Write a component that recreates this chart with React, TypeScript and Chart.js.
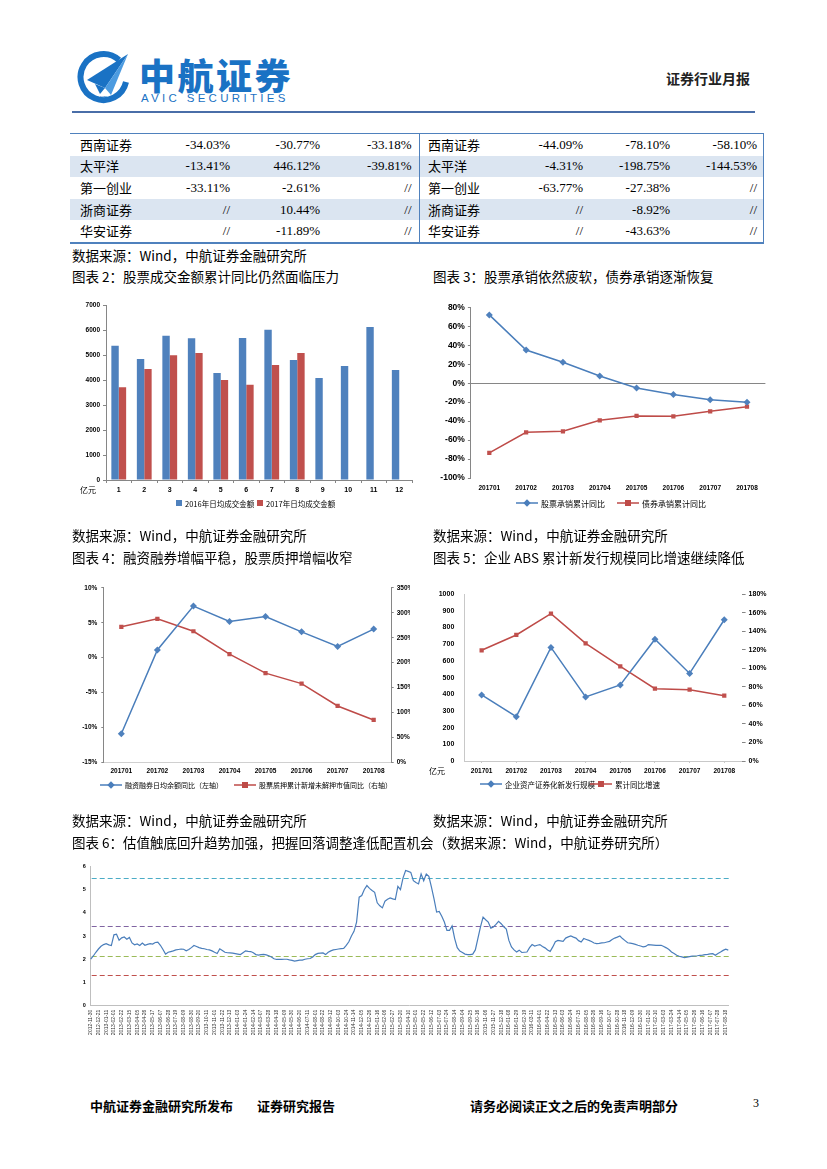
import React, { useEffect, useRef } from "react";
import { Chart, registerables } from "chart.js";
Chart.register(...registerables);

const FONT_CN = "'Noto Sans CJK SC', 'Noto Sans', sans-serif";
const FONT_NUM = "'Liberation Serif', 'Times New Roman', serif";
const FONT_AXIS = "'Liberation Sans', Arial, sans-serif";
Chart.defaults.font.family = FONT_AXIS;

// ---------------- Table data ----------------
const brokerNames = ["西南证券", "太平洋", "第一创业", "浙商证券", "华安证券"];
const leftTableValues = [
  ["-34.03%", "-30.77%", "-33.18%"],
  ["-13.41%", "446.12%", "-39.81%"],
  ["-33.11%", "-2.61%", "//"],
  ["//", "10.44%", "//"],
  ["//", "-11.89%", "//"],
];
const rightTableValues = [
  ["-44.09%", "-78.10%", "-58.10%"],
  ["-4.31%", "-198.75%", "-144.53%"],
  ["-63.77%", "-27.38%", "//"],
  ["//", "-8.92%", "//"],
  ["//", "-43.63%", "//"],
];

// ---------------- Chart 2 ----------------
const months = ["1", "2", "3", "4", "5", "6", "7", "8", "9", "10", "11", "12"];
const turnover2016 = [5370, 4840, 5770, 5670, 4280, 5680, 6010, 4800, 4080, 4560, 6120, 4400];
const turnover2017 = [3710, 4440, 4990, 5080, 4000, 3810, 4600, 5080];
const turnoverTicks = { min: 0, max: 7000, step: 1000 };

// ---------------- Chart 3 ----------------
const periods = ["201701", "201702", "201703", "201704", "201705", "201706", "201707", "201708"];
const equityUnderwriting = [72, 35, 22, 7.5, -5, -12, -17.4, -20.2];
const bondUnderwriting = [-73.6, -51.8, -50.8, -39.2, -34.6, -35, -29.7, -24.8];

// ---------------- Chart 4 ----------------
const marginBalanceYoY = [-10.9, 1.1, 7.4, 5.2, 5.9, 3.7, 1.6, 4.1];
const pledgeYoY = [272, 288, 263, 217, 179, 158, 113, 85];

// ---------------- Chart 5 ----------------
const absIssuance = [396, 266, 681, 384, 456, 730, 525, 847];
const absGrowth = [119.5, 136, 159, 127, 102, 78, 77, 70.5];

// ---------------- Chart 6 ----------------
const pbStartDate = "2012-11-30";
const pbValues = [
  2.0, 2.14, 2.3, 2.44, 2.56, 2.63, 2.67, 2.62, 2.59, 3.05,
  3.08, 2.82, 2.92, 2.96, 2.86, 2.94, 2.7, 2.62, 2.66, 2.59,
  2.7, 2.6, 2.64, 2.67, 2.65, 2.72, 2.74, 2.6, 2.42, 2.22,
  2.3, 2.33, 2.36, 2.4, 2.42, 2.44, 2.43, 2.36, 2.42, 2.5,
  2.59, 2.55, 2.5, 2.47, 2.45, 2.42, 2.4, 2.36, 2.3, 2.25,
  2.45, 2.38, 2.3, 2.28, 2.27, 2.26, 2.24, 2.22, 2.2, 2.28,
  2.36, 2.34, 2.33, 2.28, 2.2, 2.18, 2.2, 2.21, 2.19, 2.15,
  2.1, 2.02, 1.99, 2.0, 1.99, 2.0, 2.0, 1.97, 1.95, 1.92,
  1.94, 1.96, 1.96, 2.0, 2.02, 2.03, 2.1, 2.2, 2.25, 2.26,
  2.27, 2.2, 2.3, 2.36, 2.4, 2.42, 2.44, 2.46, 2.47, 2.6,
  2.75, 3.0, 3.2, 3.6, 4.67, 4.74, 5.0, 5.17, 5.05, 4.96,
  4.88, 4.43, 4.3, 4.21, 4.5, 4.58, 4.64, 4.6, 4.57, 5.14,
  5.0, 5.5, 5.82, 5.78, 5.74, 5.38, 5.3, 5.24, 5.67, 5.38,
  5.67, 5.57, 5.1, 4.6, 4.03, 4.06, 3.85, 3.6, 3.24, 3.24,
  3.43, 2.89, 2.5, 2.35, 2.29, 2.22, 2.2, 2.2, 2.22, 2.4,
  2.9, 3.39, 3.81, 3.7, 3.6, 3.34, 3.39, 3.5, 3.63, 3.53,
  3.4, 3.3, 2.81, 2.53, 2.4, 2.31, 2.39, 2.29, 2.3, 2.31,
  2.5, 2.63, 2.57, 2.6, 2.63, 2.55, 2.49, 2.4, 2.34, 2.53,
  2.75, 2.81, 2.79, 2.77, 2.91, 2.96, 3.0, 2.95, 2.91, 2.8,
  2.74, 2.89, 2.85, 2.81, 2.76, 2.7, 2.67, 2.68, 2.7, 2.71,
  2.74, 2.77, 2.85, 2.91, 2.95, 3.0, 2.89, 2.8, 2.71, 2.69,
  2.67, 2.64, 2.6, 2.57, 2.53, 2.55, 2.63, 2.62, 2.61, 2.6,
  2.6, 2.6, 2.55, 2.49, 2.42, 2.31, 2.25, 2.17, 2.13, 2.1,
  2.07, 2.09, 2.11, 2.13, 2.14, 2.15, 2.17, 2.18, 2.2, 2.21,
  2.23, 2.24, 2.17, 2.25, 2.31, 2.38, 2.43, 2.39,
];
const pbReferenceLevels = [5.5, 3.42, 2.12, 1.32];
const pbReferenceColors = ["#4BACC6", "#8064A2", "#9BBB59", "#C0504D"];

function weeklyDates(start: string, count: number): string[] {
  const out: string[] = [];
  const base = new Date(start + "T00:00:00Z").getTime();
  for (let i = 0; i < count; i++) {
    const d = new Date(base + i * 7 * 86400000);
    const mm = String(d.getUTCMonth() + 1).padStart(2, "0");
    const dd = String(d.getUTCDate()).padStart(2, "0");
    out.push(`${d.getUTCFullYear()}-${mm}-${dd}`);
  }
  return out;
}
const pbDates = weeklyDates(pbStartDate, pbValues.length);

// ---------------- helpers ----------------
const BLUE = "#4F81BD";
const BLUE_LINE = "#4A7EBB";
const RED = "#C0504D";
const RED_LINE = "#BE4B48";
const AXIS = "#868686";

const fixW = (w: number) => (scale: any) => {
  scale.width = w;
};
const fixH = (h: number) => (scale: any) => {
  scale.height = h;
};
const plain = (v: number) => String(v);
const pct = (v: number) => v + "%";

function ChartCanvas({ x, y, w, h, make }: { x: number; y: number; w: number; h: number; make: () => any }) {
  const ref = useRef<HTMLCanvasElement | null>(null);
  useEffect(() => {
    if (!ref.current) return;
    const chart = new Chart(ref.current, make());
    return () => chart.destroy();
  }, []);
  return (
    <canvas
      ref={ref}
      width={w}
      height={h}
      style={{ position: "absolute", left: x, top: y, width: w, height: h }}
    />
  );
}

const basePlugins = { legend: { display: false }, tooltip: { enabled: false } };

function chart2Config() {
  return {
    type: "bar",
    data: {
      labels: months,
      datasets: [
        { label: "2016年日均成交金额", data: turnover2016, backgroundColor: BLUE, barPercentage: 1, categoryPercentage: 0.58 },
        { label: "2017年日均成交金额", data: turnover2017, backgroundColor: RED, barPercentage: 1, categoryPercentage: 0.58 },
      ],
    },
    options: {
      responsive: false,
      animation: false,
      layout: { padding: { left: 0, right: 7, top: 7, bottom: 0 } },
      plugins: basePlugins,
      scales: {
        x: {
          grid: { drawOnChartArea: false, tickLength: 3, color: AXIS },
          border: { color: AXIS },
          ticks: { color: "#000", font: { size: 7, weight: "bold" }, padding: 3 },
          afterFit: fixH(18),
        },
        y: {
          min: turnoverTicks.min,
          max: turnoverTicks.max,
          ticks: { stepSize: turnoverTicks.step, color: "#000", font: { size: 6.5, weight: "bold" }, padding: 3, callback: plain },
          grid: { drawOnChartArea: false, tickLength: 3, color: AXIS },
          border: { color: AXIS },
          afterFit: fixW(32),
        },
      },
    },
  };
}

function chart3Config() {
  return {
    type: "line",
    data: {
      labels: periods,
      datasets: [
        {
          label: "股票承销累计同比",
          data: equityUnderwriting,
          borderColor: BLUE_LINE,
          backgroundColor: BLUE,
          borderWidth: 1.5,
          pointStyle: "rectRot",
          pointRadius: 3.5,
          pointBorderWidth: 0,
          tension: 0,
        },
        {
          label: "债券承销累计同比",
          data: bondUnderwriting,
          borderColor: RED_LINE,
          backgroundColor: RED,
          borderWidth: 1.5,
          pointStyle: "rect",
          pointRadius: 3,
          pointBorderWidth: 0,
          tension: 0,
        },
      ],
    },
    options: {
      responsive: false,
      animation: false,
      layout: { padding: { left: 0, right: 4.6, top: 9.3, bottom: 0 } },
      plugins: basePlugins,
      scales: {
        x: {
          offset: true,
          grid: { display: false, drawTicks: false },
          border: { display: false },
          ticks: { color: "#000", font: { size: 6.5, weight: "bold" }, padding: 6, autoSkip: false, maxRotation: 0 },
          afterFit: fixH(20),
        },
        y: {
          min: -100,
          max: 80,
          ticks: { stepSize: 20, color: "#000", font: { size: 8.5, weight: "bold" }, padding: 3, callback: pct },
          grid: {
            color: (c: any) => (c.tick && c.tick.value === 0 ? AXIS : "transparent"),
            tickColor: AXIS,
            tickLength: 3,
          },
          border: { color: AXIS },
          afterFit: fixW(45.9),
        },
      },
    },
  };
}

function chart4Config() {
  return {
    type: "line",
    data: {
      labels: periods,
      datasets: [
        {
          label: "融资融券日均余额同比（左轴）",
          data: marginBalanceYoY,
          yAxisID: "y",
          borderColor: BLUE_LINE,
          backgroundColor: BLUE,
          borderWidth: 1.5,
          pointStyle: "rectRot",
          pointRadius: 3.5,
          pointBorderWidth: 0,
        },
        {
          label: "股票质押累计新增未解押市值同比（右轴）",
          data: pledgeYoY,
          yAxisID: "y1",
          borderColor: RED_LINE,
          backgroundColor: RED,
          borderWidth: 1.5,
          pointStyle: "rect",
          pointRadius: 3,
          pointBorderWidth: 0,
        },
      ],
    },
    options: {
      responsive: false,
      animation: false,
      layout: { padding: { left: 0, right: 0, top: 7.3, bottom: 0 } },
      plugins: basePlugins,
      scales: {
        x: {
          offset: true,
          grid: { drawOnChartArea: false, drawTicks: false },
          border: { color: "#D0D0D0" },
          ticks: { color: "#000", font: { size: 6.5, weight: "bold" }, padding: 5, autoSkip: false, maxRotation: 0 },
          afterFit: fixH(17.7),
        },
        y: {
          position: "left",
          min: -15,
          max: 10,
          ticks: { stepSize: 5, color: "#000", font: { size: 6.5, weight: "bold" }, padding: 4, callback: pct },
          grid: { drawOnChartArea: false, tickLength: 2, color: AXIS },
          border: { color: AXIS },
          afterFit: fixW(31.3),
        },
        y1: {
          position: "right",
          min: 0,
          max: 350,
          ticks: { stepSize: 50, color: "#000", font: { size: 6.5, weight: "bold" }, padding: 3, callback: pct },
          grid: { drawOnChartArea: false, tickLength: 2, color: AXIS },
          border: { color: AXIS },
          afterFit: fixW(18.3),
        },
      },
    },
  };
}

function chart5Config() {
  return {
    type: "line",
    data: {
      labels: periods,
      datasets: [
        {
          label: "企业资产证券化新发行规模",
          data: absIssuance,
          yAxisID: "y",
          borderColor: BLUE_LINE,
          backgroundColor: BLUE,
          borderWidth: 1.5,
          pointStyle: "rectRot",
          pointRadius: 3.5,
          pointBorderWidth: 0,
        },
        {
          label: "累计同比增速",
          data: absGrowth,
          yAxisID: "y1",
          borderColor: RED_LINE,
          backgroundColor: RED,
          borderWidth: 1.5,
          pointStyle: "rect",
          pointRadius: 3,
          pointBorderWidth: 0,
        },
      ],
    },
    options: {
      responsive: false,
      animation: false,
      layout: { padding: { left: 0, right: 0, top: 8.3, bottom: 0 } },
      plugins: basePlugins,
      scales: {
        x: {
          offset: true,
          grid: { drawOnChartArea: false, tickLength: 2, color: "#C8C8C8" },
          border: { color: "#C8C8C8" },
          ticks: { color: "#000", font: { size: 6.5, weight: "bold" }, padding: 4, autoSkip: false, maxRotation: 0 },
          afterFit: fixH(19),
        },
        y: {
          position: "left",
          min: 0,
          max: 1000,
          ticks: { stepSize: 100, color: "#000", font: { size: 7, weight: "bold" }, padding: 10, callback: plain },
          grid: { drawOnChartArea: false, drawTicks: false },
          border: { color: "#C8C8C8" },
          afterFit: fixW(39.3),
        },
        y1: {
          position: "right",
          min: 0,
          max: 180,
          ticks: { stepSize: 20, color: "#000", font: { size: 7, weight: "bold" }, padding: 3, callback: pct },
          grid: { drawOnChartArea: false, tickLength: 4, color: AXIS },
          border: { display: false },
          afterFit: fixW(28.4),
        },
      },
    },
  };
}

const referenceLinesPlugin = {
  id: "referenceLines",
  beforeDatasetsDraw(chart: any) {
    const { ctx, chartArea, scales } = chart;
    const y = scales.y;
    ctx.save();
    ctx.lineWidth = 1;
    ctx.setLineDash([5, 3]);
    pbReferenceLevels.forEach((lv, i) => {
      const py = Math.round(y.getPixelForValue(lv)) + 0.5;
      ctx.strokeStyle = pbReferenceColors[i];
      ctx.beginPath();
      ctx.moveTo(chartArea.left + 1, py);
      ctx.lineTo(chartArea.right + 2, py);
      ctx.stroke();
    });
    ctx.restore();
  },
};

function chart6Config() {
  return {
    type: "line",
    data: {
      labels: pbDates,
      datasets: [
        {
          label: "PB",
          data: pbValues,
          borderColor: BLUE_LINE,
          borderWidth: 1.2,
          pointRadius: 0,
          tension: 0,
        },
      ],
    },
    plugins: [referenceLinesPlugin],
    options: {
      responsive: false,
      animation: false,
      layout: { padding: { left: 0, right: 43.7, top: 7.7, bottom: 0 } },
      plugins: basePlugins,
      scales: {
        x: {
          offset: false,
          grid: { display: false, drawTicks: false },
          border: { color: "#BFBFBF" },
          ticks: {
            color: "#333",
            font: { size: 5 },
            padding: 4,
            autoSkip: false,
            minRotation: 90,
            maxRotation: 90,
            callback: (_v: any, idx: number) => (idx % 3 === 0 ? pbDates[idx] : ""),
          },
          afterFit: fixH(37.3),
        },
        y: {
          min: 0,
          max: 6,
          ticks: { stepSize: 1, color: "#000", font: { size: 5.5, weight: "bold" }, padding: 5, callback: plain },
          grid: { display: false, drawTicks: false },
          border: { color: "#BFBFBF" },
          afterFit: fixW(18.7),
        },
      },
    },
  };
}

// ---------------- HTML pieces ----------------
function Txt({
  x,
  y,
  children,
  size = 13.5,
  font = FONT_CN,
  weight = 400,
  color = "#000",
  lh = 18,
  align,
  spacing,
}: any) {
  const style: any = {
    position: "absolute",
    top: y - lh / 2,
    fontSize: size,
    fontFamily: font,
    fontWeight: weight,
    color,
    lineHeight: lh + "px",
    whiteSpace: "nowrap",
    letterSpacing: spacing,
  };
  if (align === "right") style.right = 827 - x;
  else style.left = x;
  return <div style={style}>{children}</div>;
}

function LegendSymbol({ kind, color }: { kind: string; color: string }) {
  if (kind === "box")
    return (
      <svg width="6" height="6" style={{ display: "block" }}>
        <rect width="6" height="6" fill={color} />
      </svg>
    );
  return (
    <svg width="22" height="8" style={{ display: "block" }}>
      <line x1="0" y1="4" x2="22" y2="4" stroke={color} strokeWidth="1.5" />
      {kind === "diamond" ? (
        <polygon points="11,0.3 14.7,4 11,7.7 7.3,4" fill={color} />
      ) : (
        <rect x="8" y="1" width="6" height="6" fill={color} />
      )}
    </svg>
  );
}

function LegendItem({ x, y, kind, color, label, size = 8 }: any) {
  return (
    <div
      style={{
        position: "absolute",
        left: x,
        top: y - 6,
        height: 12,
        display: "flex",
        alignItems: "center",
        gap: 3,
        fontFamily: FONT_CN,
        fontSize: size,
        color: "#000",
        whiteSpace: "nowrap",
      }}
    >
      <LegendSymbol kind={kind} color={color} />
      <span>{label}</span>
    </div>
  );
}

function Logo() {
  return (
    <svg width="56" height="58" viewBox="0 0 56 58" style={{ position: "absolute", left: 75, top: 50 }}>
      <path d="M44 10 A23 23 0 1 0 51 32" fill="none" stroke="#1A72C4" strokeWidth="6" />
      <polygon points="12,30 53,4 30,38" fill="#1A72C4" />
      <polygon points="30,38 53,4 36,45" fill="#4C9BE0" />
      <polygon points="20,34 30,38 25,44" fill="#1A72C4" />
      <text x="18" y="50" fontSize="6" fill="#1A72C4" fontFamily={FONT_AXIS} fontStyle="italic">
        AVIC
      </text>
    </svg>
  );
}

function BrokerTable() {
  const top = 134;
  const rowH = 21.6;
  const leftRights = [230, 320, 411.5];
  const rightRights = [583, 670, 757];
  return (
    <>
      <div style={{ position: "absolute", left: 70, top: 133, width: 694, height: 1, background: "#4F81BD" }} />
      {brokerNames.map((name, i) => {
        const cy = top + i * rowH + rowH / 2;
        return (
          <React.Fragment key={name}>
            {i % 2 === 1 && (
              <div
                style={{ position: "absolute", left: 70, top: top + i * rowH, width: 694, height: rowH, background: "#DBE5F1" }}
              />
            )}
            <Txt x={80} y={cy} size={13}>
              {name}
            </Txt>
            {leftTableValues[i].map((v, j) => (
              <Txt key={"l" + j} x={leftRights[j]} y={cy} size={13} font={FONT_NUM} align="right">
                {v}
              </Txt>
            ))}
            <Txt x={428} y={cy} size={13}>
              {name}
            </Txt>
            {rightTableValues[i].map((v, j) => (
              <Txt key={"r" + j} x={rightRights[j]} y={cy} size={13} font={FONT_NUM} align="right">
                {v}
              </Txt>
            ))}
          </React.Fragment>
        );
      })}
      <div style={{ position: "absolute", left: 419, top: 133, width: 1, height: 109, background: "#4F81BD" }} />
      <div style={{ position: "absolute", left: 763, top: 133, width: 1, height: 109, background: "#4F81BD" }} />
      <div style={{ position: "absolute", left: 70, top: 241.5, width: 694, height: 2, background: "#4F81BD" }} />
    </>
  );
}

const SOURCE = "数据来源：Wind，中航证券金融研究所";

export default function App() {
  return (
    <div
      style={{
        position: "absolute",
        left: 0,
        top: 0,
        width: 827,
        height: 1169,
        background: "#fff",
        overflow: "hidden",
      }}
    >
      {/* header */}
      <Logo />
      <Txt x={139} y={74} size={36} weight={900} color="#1A72C4" lh={40} spacing={2.5}>
        中航证券
      </Txt>
      <Txt x={141} y={98} size={11.5} font={FONT_AXIS} color="#1A72C4" lh={14} spacing={3.3}>
        AVIC SECURITIES
      </Txt>
      <Txt x={666} y={78} size={14} weight={700} color="#222" lh={18}>
        证券行业月报
      </Txt>
      <div style={{ position: "absolute", left: 72, top: 111, width: 683, height: 2, background: "#4A6EA8" }} />

      <BrokerTable />

      {/* captions row 1 */}
      <Txt x={72} y={255}>{SOURCE}</Txt>
      <Txt x={72} y={276}>图表 2：股票成交金额累计同比仍然面临压力</Txt>
      <Txt x={433} y={276}>图表 3：股票承销依然疲软，债券承销逐渐恢复</Txt>

      {/* chart 2 */}
      <ChartCanvas x={74} y={298} w={345} h={200} make={chart2Config} />
      <Txt x={80} y={490} size={8} lh={10}>
        亿元
      </Txt>
      <LegendItem x={176} y={503} kind="box" color={BLUE} label="2016年日均成交金额" size={7.5} />
      <LegendItem x={257} y={503} kind="box" color={RED} label="2017年日均成交金额" size={7.5} />

      {/* chart 3 */}
      <ChartCanvas x={425} y={298} w={345} h={200} make={chart3Config} />
      <LegendItem x={516} y={503} kind="diamond" color={BLUE_LINE} label="股票承销累计同比" size={8} />
      <LegendItem x={617} y={503} kind="square" color={RED_LINE} label="债券承销累计同比" size={8} />

      {/* captions row 2 */}
      <Txt x={72} y={535}>{SOURCE}</Txt>
      <Txt x={433} y={535}>{SOURCE}</Txt>
      <Txt x={72} y={557}>图表 4：融资融券增幅平稳，股票质押增幅收窄</Txt>
      <Txt x={433} y={557}>图表 5：企业 ABS 累计新发行规模同比增速继续降低</Txt>

      {/* chart 4 */}
      <ChartCanvas x={72} y={580} w={338} h={200} make={chart4Config} />
      <LegendItem x={100} y={785} kind="diamond" color={BLUE_LINE} label="融资融券日均余额同比（左轴）" size={7} />
      <LegendItem x={234} y={785} kind="square" color={RED_LINE} label="股票质押累计新增未解押市值同比（右轴）" size={7} />

      {/* chart 5 */}
      <ChartCanvas x={425} y={580} w={345} h={200} make={chart5Config} />
      <Txt x={429} y={771} size={8} lh={10}>
        亿元
      </Txt>
      <LegendItem x={480} y={784} kind="diamond" color={BLUE_LINE} label="企业资产证券化新发行规模" size={7.5} />
      <LegendItem x={590} y={784} kind="square" color={RED_LINE} label="累计同比增速" size={7.5} />

      {/* captions row 3 */}
      <Txt x={72} y={820}>{SOURCE}</Txt>
      <Txt x={433} y={820}>{SOURCE}</Txt>
      <Txt x={72} y={842}>图表 6：估值触底回升趋势加强，把握回落调整逢低配置机会（数据来源：Wind，中航证券研究所）</Txt>

      {/* chart 6 */}
      <ChartCanvas x={72} y={858} w={700} h={185} make={chart6Config} />

      {/* footer */}
      <Txt x={90} y={1106} size={13} weight={700}>
        中航证券金融研究所发布
      </Txt>
      <Txt x={257} y={1106} size={13} weight={700}>
        证券研究报告
      </Txt>
      <Txt x={470} y={1106} size={13} weight={700}>
        请务必阅读正文之后的免责声明部分
      </Txt>
      <Txt x={753} y={1103} size={12} font={FONT_NUM}>
        3
      </Txt>
    </div>
  );
}
